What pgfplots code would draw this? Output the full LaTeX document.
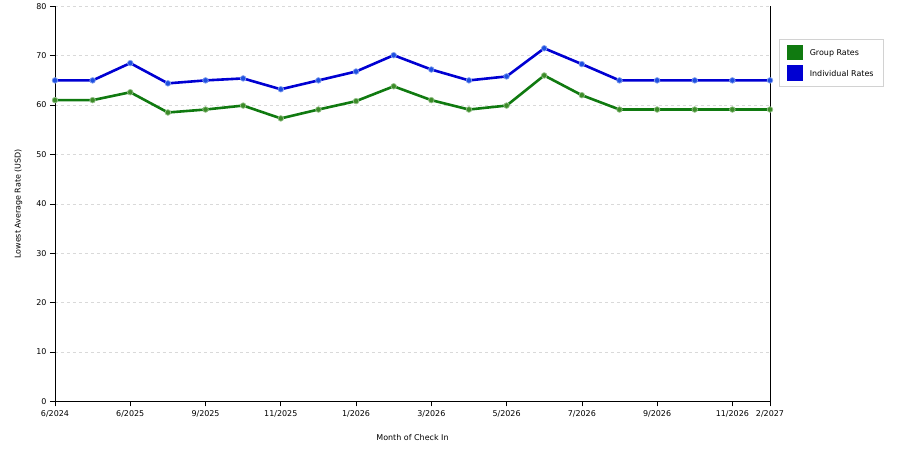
\documentclass[border=0pt]{standalone}
\usepackage{pgfplots}
\pgfplotsset{compat=1.18}
\usepackage{fontspec}
\setmainfont{DejaVu Sans}
\definecolor{grp}{RGB}{16,122,16}
\definecolor{grpm}{RGB}{60,140,40}
\definecolor{ind}{RGB}{0,0,210}
\definecolor{indm}{RGB}{30,80,225}
\begin{document}
\begin{tikzpicture}
\begin{axis}[
  name=ax,
  scale only axis,
  width=715bp, height=395bp,
  xmin=0, xmax=19, ymin=0, ymax=80,
  axis x line*=bottom, axis y line*=left,
  axis line style={black, line width=0.8bp, -},
  xtick={0,2,4,6,8,10,12,14,16,18,19},
  xticklabels={6/2024,6/2025,9/2025,11/2025,1/2026,3/2026,5/2026,7/2026,9/2026,11/2026,2/2027},
  ytick={0,10,...,80},
  tick align=outside, major tick length=5bp,
  tick style={black, line width=0.6bp},
  ymajorgrids, grid style={dashed, gray!30, line width=0.5bp},
  /pgf/number format/assume math mode=true,
  tick label style={font=\fontsize{8}{9.5}\selectfont},
  xticklabel style={yshift=-1bp},
  label style={font=\fontsize{8}{9.5}\selectfont},
  xlabel={Month of Check In},
  ylabel={Lowest Average Rate (USD)},
  xlabel style={at={(0.5,0)}, anchor=north, yshift=-30bp},
  ylabel style={at={(axis description cs:-0.051,0.5)}, anchor=center},
  clip=false,
  legend style={at={(1.0126,0.9165)}, anchor=north west, draw=gray!35,
    font=\fontsize{8}{9.5}\selectfont, inner xsep=8bp, inner ysep=5bp,
    row sep=5bp, cells={anchor=west}},
  legend image code/.code={\fill[#1] (0bp,-5.5bp) rectangle (13bp,7.5bp);
    \path (18bp,0bp);},
]
\addplot[grp, line width=2.6bp, mark=*, mark size=2.8bp,
  mark options={fill=grpm, draw=grpm!55!white, line width=0.7bp}]
  coordinates {(0,61.0) (1,61.0) (2,62.6) (3,58.5) (4,59.1) (5,59.9) (6,57.3) (7,59.1) (8,60.8) (9,63.8)
  (10,61.0) (11,59.1) (12,59.9) (13,66.0) (14,62.0) (15,59.1) (16,59.1) (17,59.1) (18,59.1) (19,59.1)};
\addlegendentry{Group Rates}
\addplot[ind, line width=2.6bp, mark=*, mark size=2.8bp,
  mark options={fill=indm, draw=indm!55!white, line width=0.7bp}]
  coordinates {(0,65.0) (1,65.0) (2,68.5) (3,64.4) (4,65.0) (5,65.4) (6,63.2) (7,65.0) (8,66.8) (9,70.1)
  (10,67.2) (11,65.0) (12,65.8) (13,71.5) (14,68.3) (15,65.0) (16,65.0) (17,65.0) (18,65.0) (19,65.0)};
\addlegendentry{Individual Rates}
\draw[black, line width=0.8bp] (rel axis cs:1,0) -- (rel axis cs:1,1);
\end{axis}
\useasboundingbox (ax.south west) ++(-55bp,-50bp) rectangle ++(900bp,450bp);
\end{tikzpicture}
\end{document}
